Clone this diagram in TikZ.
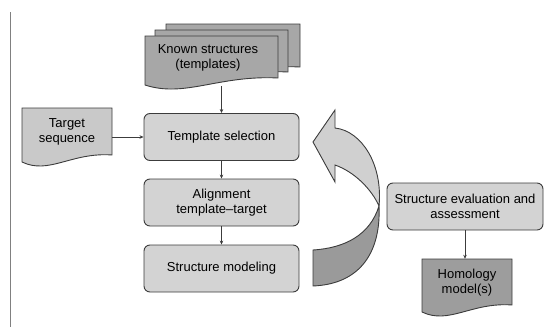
\documentclass[tikz,border=0pt]{standalone}
\usepackage{fontspec}
\setmainfont{Liberation Sans}
\usetikzlibrary{arrows.meta}
\definecolor{boxgray}{HTML}{D3D3D3}
\definecolor{docgray}{HTML}{A7A7A7}
\definecolor{tgtgray}{HTML}{C9C9C9}
\definecolor{homgray}{HTML}{9D9D9D}
\definecolor{edgegray}{HTML}{3C3C3C}
\definecolor{arrlight}{HTML}{D0D0D0}
\definecolor{arrdark}{HTML}{9A9A9A}
\begin{document}
\begin{tikzpicture}[x=1pt,y=-1pt,
    every node/.style={font=\fontsize{13}{15}\selectfont, text=black, align=center},
    stepbox/.style={draw=edgegray, fill=boxgray, rounded corners=6pt, line width=0.9pt, minimum width=155pt, minimum height=47pt},
    doctext/.style={inner sep=0pt},
    arr/.style={draw=edgegray, line width=0.6pt, -{Stealth[length=4pt,width=3.5pt]}}]
  \def\docpage#1#2#3#4#5{\filldraw[fill=#5, draw=edgegray, line width=0.9pt] (#1,#2) -- (#3,#2) -- (#3,{#4-7}) .. controls ({#1+0.55*(#3-#1)},{#4-10}) and ({#1+0.3*(#3-#1)},{#4+13}) .. (#1,#4) -- cycle;}
  \useasboundingbox (0,0) rectangle (544,327);
  \draw[gray, line width=0.8pt] (10,12) -- (10,327);
  % stack of templates
  \docpage{166}{24}{300}{74}{docgray}
  \docpage{155}{30}{288}{79}{docgray}
  \docpage{145}{36}{278}{85}{docgray}
  \docpage{22}{108}{112}{162}{tgtgray}
  \docpage{422}{259}{512}{312}{homgray}
  \node[doctext] (known) at (208,58) {Known structures\\(templates)};
  \node[doctext, minimum width=90pt] (tgt) at (67,132) {Target\\sequence};
  \node[doctext, minimum width=90pt, minimum height=48pt] (hom) at (467,283) {Homology\\model(s)};
  \node[stepbox] (sel) at (221.5,137) {Template selection};
  \node[stepbox] (aln) at (221.5,202.5) {Alignment\\template–target};
  \node[stepbox] (mod) at (221.5,268.5) {Structure modeling};
  \node[stepbox, minimum width=156pt] (ev) at (465,206.5) {Structure evaluation and\\assessment};
  \coordinate (kb) at (221.5,86);
  \draw[arr] (kb) -- (sel);
  \draw[arr] (tgt.east |- sel) -- (sel);
  \draw[arr] (sel) -- (aln);
  \draw[arr] (aln) -- (mod);
  \draw[arr] (ev) -- (ev |- hom.north);
  % feedback arrow
  \filldraw[fill=arrlight, draw=edgegray, line width=0.9pt] (335,128) .. controls (362,131) and (383,165) .. (379,206) .. controls (372,190) and (355,172) .. (335,165) -- (335,182) -- (313,142) -- (335,110) -- cycle;
  \filldraw[fill=arrdark, draw=edgegray, line width=0.9pt] (379,206) .. controls (381,250) and (362,284) .. (313,286) -- (313,250) .. controls (345,248) and (370,235) .. (379,206) -- cycle;
\end{tikzpicture}
\end{document}
